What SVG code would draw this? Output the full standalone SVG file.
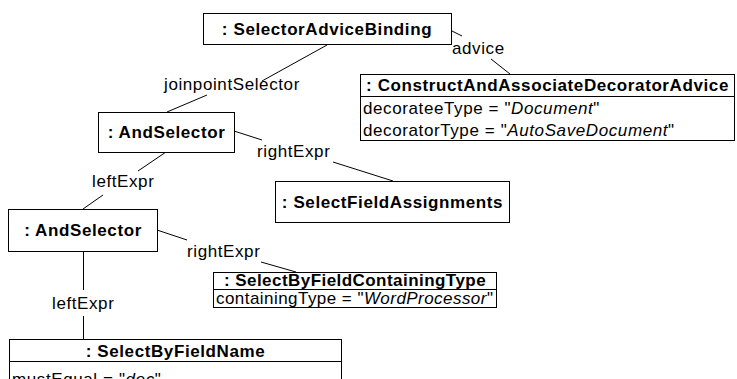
<svg xmlns="http://www.w3.org/2000/svg" width="737" height="379" viewBox="0 0 737 379">
<style>
.box{fill:#fff;stroke:#000;stroke-width:1}
.ln{stroke:#000;stroke-width:1;fill:none}
text{font-family:"Liberation Sans",Arial,Helvetica,sans-serif;font-size:17px;letter-spacing:0.6px;fill:#000}
.b{font-weight:bold}
.c{text-anchor:middle}
.i{font-style:italic}
.t{letter-spacing:0.45px}
</style>
<rect width="737" height="379" fill="#fff"/>
<g id="connectors">
<polyline class="ln" points="452,31 462,36"/>
<polyline class="ln" points="491,59 510,74"/>
<polyline class="ln" points="327,45 262,81"/>
<polyline class="ln" points="207,95 167,112"/>
<polyline class="ln" points="234,131 262,140"/>
<polyline class="ln" points="333,162 393,181"/>
<polyline class="ln" points="166,152 138,171"/>
<polyline class="ln" points="103,195 83,209"/>
<polyline class="ln" points="157,230 187,240"/>
<polyline class="ln" points="261,262 296,272"/>
<polyline class="ln" points="83.5,251 83.5,290"/>
<polyline class="ln" points="83.5,316 83.5,339"/>
<text x="452" y="54">advice</text>
<text x="164" y="90">joinpointSelector</text>
<text x="257" y="157">rightExpr</text>
<text x="92" y="187">leftExpr</text>
<text x="187" y="257">rightExpr</text>
<text x="52" y="309">leftExpr</text>
</g>
<g id="selectorAdviceBinding">
<rect class="box" x="203.5" y="13.5" width="248" height="31"/>
<text class="b c" x="327" y="35">: SelectorAdviceBinding</text>
</g>
<g id="constructAndAssociateDecoratorAdvice">
<rect class="box" x="360.5" y="74.5" width="374" height="66"/>
<line class="ln" x1="360.5" y1="96.5" x2="734.5" y2="96.5"/>
<text class="b c" x="547.5" y="91">: ConstructAndAssociateDecoratorAdvice</text>
<text x="363" y="114">decorateeType = "<tspan class="i">Document</tspan>"</text>
<text x="363" y="136">decoratorType = "<tspan class="i">AutoSaveDocument</tspan>"</text>
</g>
<g id="andSelector1">
<rect class="box" x="98.5" y="112.5" width="136" height="40"/>
<text class="b c" x="166.5" y="138">: AndSelector</text>
</g>
<g id="selectFieldAssignments">
<rect class="box" x="275.5" y="181.5" width="234" height="41"/>
<text class="b c" x="392.5" y="208">: SelectFieldAssignments</text>
</g>
<g id="andSelector2">
<rect class="box" x="8.5" y="209.5" width="149" height="42"/>
<text class="b c" x="83" y="236">: AndSelector</text>
</g>
<g id="selectByFieldContainingType">
<rect class="box" x="213.5" y="272.5" width="283" height="35"/>
<line class="ln" x1="213.5" y1="289.5" x2="496.5" y2="289.5"/>
<text class="b c t" x="355" y="286">: SelectByFieldContainingType</text>
<text class="t" x="216" y="304">containingType = "<tspan class="i">WordProcessor</tspan>"</text>
</g>
<g id="selectByFieldName">
<rect class="box" x="9.5" y="339.5" width="332" height="60"/>
<line class="ln" x1="9.5" y1="361.5" x2="341.5" y2="361.5"/>
<text class="b c" x="175.5" y="357">: SelectByFieldName</text>
<text x="12" y="385">mustEqual = "<tspan class="i">doc</tspan>"</text>
</g>
</svg>
